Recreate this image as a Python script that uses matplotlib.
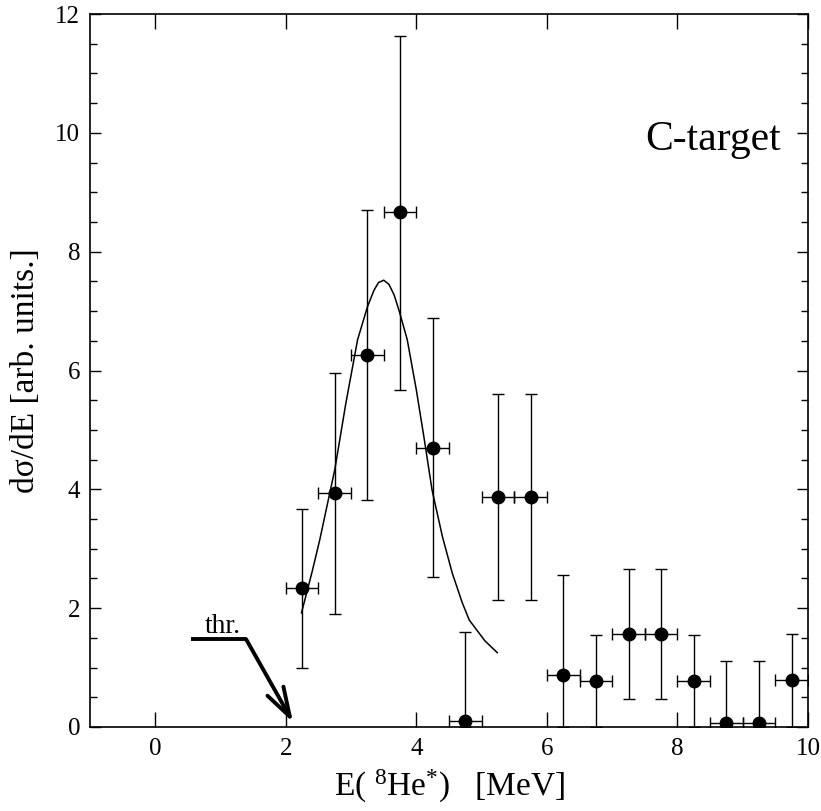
import matplotlib.pyplot as plt
from matplotlib.ticker import MultipleLocator

plt.rcParams['font.family'] = ['Liberation Serif', 'DejaVu Serif']
plt.rcParams['mathtext.fontset'] = 'custom'
plt.rcParams['mathtext.rm'] = 'Liberation Serif'
plt.rcParams['mathtext.it'] = 'Liberation Serif:italic'

# measured spectrum (C-target)
energy = [2.25, 2.75, 3.25, 3.75, 4.25, 4.75, 5.25, 5.75,
          6.25, 6.75, 7.25, 7.75, 8.25, 8.75, 9.25, 9.75]
xs = [2.34, 3.93, 6.26, 8.67, 4.70, 0.10, 3.87, 3.87,
      0.87, 0.77, 1.57, 1.57, 0.77, 0.07, 0.07, 0.79]
err_hi = [3.67, 5.96, 8.70, 11.63, 6.89, 1.60, 5.61, 5.61,
          2.56, 1.55, 2.66, 2.66, 1.55, 1.11, 1.11, 1.56]
err_lo = [0.99, 1.90, 3.82, 5.67, 2.52, 0.0, 2.14, 2.14,
          0.0, 0.0, 0.47, 0.47, 0.0, 0.0, 0.0, 0.0]
bin_half = 0.25

# fitted resonance curve
fit_e = [2.24, 2.40, 2.52, 2.75, 2.92, 3.10, 3.25, 3.35, 3.42, 3.50, 3.58,
         3.66, 3.74, 3.86, 4.00, 4.12, 4.24, 4.40, 4.55, 4.70, 4.81, 5.05, 5.24]
fit_y = [1.92, 2.60, 3.15, 4.33, 5.45, 6.52, 7.07, 7.35, 7.48, 7.52, 7.45,
         7.27, 6.99, 6.52, 5.67, 4.85, 3.99, 3.20, 2.59, 2.10, 1.80, 1.45, 1.25]

fig = plt.figure(figsize=(8.21, 8.11), dpi=100)
ax = fig.add_axes([0.1096, 0.1036, 0.8746, 0.8791])

yerr = [[y - lo for y, lo in zip(xs, err_lo)], [hi - y for y, hi in zip(xs, err_hi)]]
ax.errorbar(energy, xs, xerr=bin_half, yerr=yerr, fmt='o', color='black',
            markersize=9, elinewidth=1.0, capsize=4, capthick=1.0)
ax.plot(fit_e, fit_y, color='black', lw=1.1)

# threshold marker
ax.plot([0.55, 1.39], [1.48, 1.48], color='black', lw=2.8, solid_capstyle='butt')
ax.annotate('', xy=(2.11, 0.08), xytext=(1.39, 1.48),
            arrowprops=dict(arrowstyle='->,head_length=1.05,head_width=0.33',
                            mutation_scale=20, lw=2.8, color='black',
                            shrinkA=0, shrinkB=0))
ax.text(1.04, 1.58, 'thr.', fontsize=20, ha='center', va='baseline')

ax.text(8.55, 9.88, 'C-target', fontsize=30, ha='center', va='center')

ax.set_xlim(-1, 10)
ax.set_ylim(0, 12)
ax.xaxis.set_major_locator(MultipleLocator(2))
ax.yaxis.set_major_locator(MultipleLocator(2))
ax.yaxis.set_minor_locator(MultipleLocator(0.5))
ax.tick_params(which='both', direction='in', top=True, right=True, labelsize=18, width=1.0)
ax.tick_params(axis='x', which='major', length=11, pad=8)
ax.tick_params(axis='y', which='major', length=8, pad=7)
ax.tick_params(axis='y', which='minor', length=5)
for s in ax.spines.values():
    s.set_linewidth(1.2)

ax.set_xlabel(r'E( $^{8}$He$^{*}$)   [MeV]', fontsize=24, labelpad=6)
ax.set_ylabel('dσ/dE [arb. units.]', fontsize=24, labelpad=10)

fig.savefig('out.png', dpi=100)
